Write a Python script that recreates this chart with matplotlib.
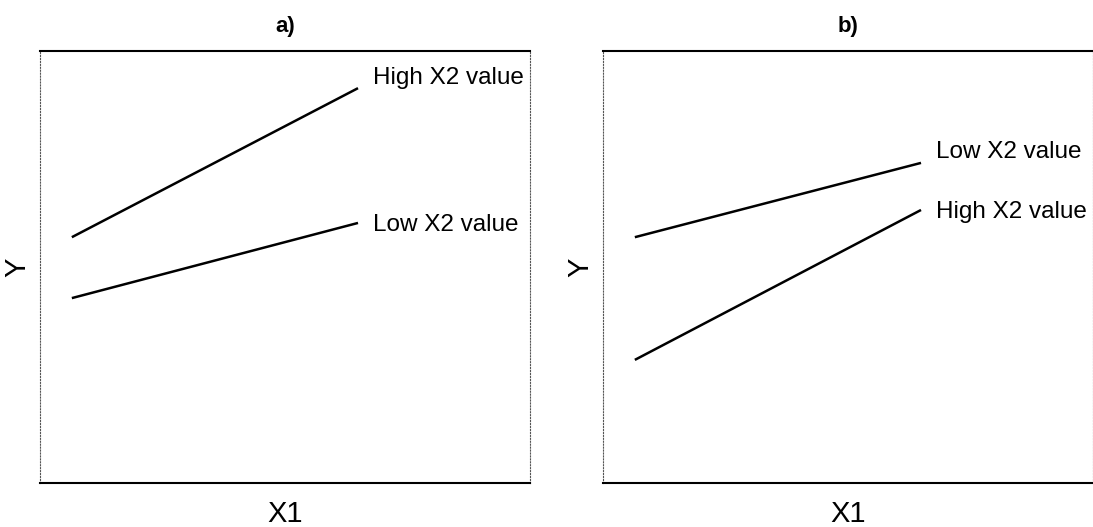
import matplotlib.pyplot as plt

plt.rcParams['font.family'] = ['Liberation Sans', 'DejaVu Sans']

# line endpoints (x1 start/end) for each panel
x1 = [0.65, 6.49]
a_high = [5.69, 9.14]
a_low = [4.28, 6.02]
b_low = [5.69, 7.41]
b_high = [2.85, 6.32]

panels = [
    ("a)", [("High X2 value", a_high, 9.37), ("Low X2 value", a_low, 5.97)]),
    ("b)", [("Low X2 value", b_low, 7.66), ("High X2 value", b_high, 6.27)]),
]

fig = plt.figure(figsize=(10.93, 5.27), dpi=100)
lefts = [40 / 1093, 603 / 1093]
for (title, lines), left in zip(panels, lefts):
    ax = fig.add_axes([left, 44 / 527, 490 / 1093, 432 / 527])
    for label, y, ty in lines:
        ax.plot(x1, y, color='black', lw=1.8, solid_capstyle='butt')
        ax.text(x1[1] + 0.3, ty, label, fontsize=17.5, va='center', ha='left')
    ax.set_xlim(0, 10)
    ax.set_ylim(0, 10)
    ax.set_xticks([])
    ax.set_yticks([])
    for s in ['top', 'bottom']:
        ax.spines[s].set_linewidth(1.5)
        ax.spines[s].set_color('black')
    for s in ['left', 'right']:
        ax.spines[s].set_linewidth(0.8)
        ax.spines[s].set_linestyle(':')
        ax.spines[s].set_color('#555555')
    ax.set_title(title, fontsize=16, fontweight='bold', pad=14)
    ax.set_xlabel('X1', fontsize=21, labelpad=12)
    ax.set_ylabel('Y', fontsize=21, labelpad=6)

fig.savefig('out.png', dpi=100)
